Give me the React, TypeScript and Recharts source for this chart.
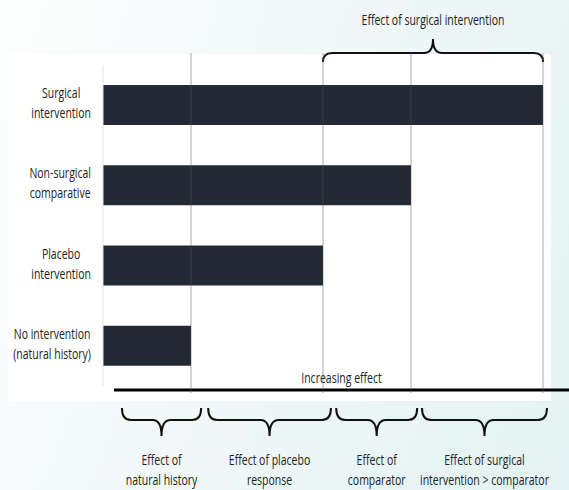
import { BarChart, Bar, XAxis, YAxis, ReferenceLine, ReferenceArea } from 'recharts';

const categories = [
  'Surgical intervention',
  'Non-surgical comparative',
  'Placebo intervention',
  'No intervention (natural history)',
];
const categoryLines = [
  ['Surgical', 'intervention'],
  ['Non-surgical', 'comparative'],
  ['Placebo', 'intervention'],
  ['No intervention', '(natural history)'],
];
const effectValues = [100, 70, 50, 20];
const gridValues = [20, 50, 70, 100];

const topBraceRange = [50, 100];
const topBraceLabel = 'Effect of surgical intervention';

const bottomBraceRanges = [
  [4.3, 22.3],
  [23.9, 51.8],
  [53, 71.4],
  [72.5, 100.9],
];
const bottomBraceLabels = [
  ['Effect of', 'natural history'],
  ['Effect of placebo', 'response'],
  ['Effect of', 'comparator'],
  ['Effect of surgical', 'intervention > comparator'],
];
const axisLabel = 'Increasing effect';

const FONT = "'Open Sans', sans-serif";
const FONT_SIZE = 15;
const SX = 0.7; // the reference uses a narrow face, squeeze Open Sans to match
const TEXT = '#222';

const data = categories.map((name, i) => ({ name, value: effectValues[i] }));

let ctx: CanvasRenderingContext2D | null = null;
const textWidth = (s: string) => {
  if (!ctx) ctx = document.createElement('canvas').getContext('2d');
  if (!ctx) return s.length * 7;
  ctx.font = `${FONT_SIZE}px 'Open Sans'`;
  return ctx.measureText(s).width * SX;
};

const Label = ({ x, y, children, anchor = 'middle' }: any) => (
  <text
    transform={`translate(${x},${y}) scale(${SX},1)`}
    textAnchor={anchor}
    fill={TEXT}
    fontSize={FONT_SIZE}
    fontFamily={FONT}
  >
    {children}
  </text>
);

// brace path: ends at yEnd, flat part at yFlat, tip at yTip
const bracePath = (x1: number, x2: number, yEnd: number, yFlat: number, yTip: number) => {
  const r = 9;
  const mid = (x1 + x2) / 2;
  return `M${x1},${yEnd} Q${x1},${yFlat} ${x1 + r},${yFlat} L${mid - r},${yFlat} Q${mid},${yFlat} ${mid},${yTip} Q${mid},${yFlat} ${mid + r},${yFlat} L${x2 - r},${yFlat} Q${x2},${yFlat} ${x2},${yEnd}`;
};

const CategoryTick = (props: any) => {
  const { x, y, payload } = props;
  const lines = categoryLines[categories.indexOf(payload.value)] || [payload.value, ''];
  const maxW = Math.max(...lines.map(textWidth));
  const cx = x - 4 - maxW / 2;
  return (
    <g>
      <Label x={cx} y={y - 7}>{lines[0]}</Label>
      <Label x={cx} y={y + 13}>{lines[1]}</Label>
    </g>
  );
};

const GridShape = (props: any) => {
  const { x1, y1, x2, y2 } = props;
  return <line x1={x1} y1={y1 + 7} x2={x2} y2={y2 - 12} stroke="#555" strokeOpacity={0.5} strokeWidth={1} />;
};

const TopBrace = (props: any) => {
  const { x, width } = props;
  return (
    <g>
      <path d={bracePath(x, x + width, 62, 53, 39)} fill="none" stroke="#111" strokeWidth={2} />
      <Label x={x + width / 2} y={25}>{topBraceLabel}</Label>
    </g>
  );
};

const makeBottomBrace = (lines: string[]) => (props: any) => {
  const { x, width } = props;
  const cx = x + width / 2;
  return (
    <g>
      <path d={bracePath(x, x + width, 408, 420, 436)} fill="none" stroke="#111" strokeWidth={2} />
      <Label x={cx} y={465}>{lines[0]}</Label>
      <Label x={cx} y={485}>{lines[1]}</Label>
    </g>
  );
};

const AxisArrow = (props: any) => {
  const { x } = props;
  const start = x + 11;
  return (
    <g>
      <line x1={start} y1={390} x2={569} y2={390} stroke="#000" strokeWidth={3} />
      <Label x={(start + 569) / 2} y={383}>{axisLabel}</Label>
    </g>
  );
};

export default function App() {
  return (
    <div
      style={{
        position: 'relative',
        width: 569,
        height: 490,
        overflow: 'hidden',
        background: 'linear-gradient(110deg, #fdfefe 0%, #f1f8f8 45%, #e3f2f2 100%)',
      }}
    >
      <style>{'body{margin:0}'}</style>
      <div style={{ position: 'absolute', left: 8, top: 54, width: 543, height: 347, background: '#fff' }} />
      <div style={{ position: 'absolute', left: 0, top: 0 }}>
        <BarChart
          width={569}
          height={490}
          data={data}
          layout="vertical"
          margin={{ top: 65, right: 26, bottom: 104, left: 0 }}
        >
          <XAxis type="number" domain={[0, 100]} hide />
          <YAxis
            type="category"
            dataKey="name"
            width={103}
            tickLine={false}
            axisLine={{ stroke: '#e2e2e2' }}
            tick={<CategoryTick />}
            interval={0}
          />
          <Bar dataKey="value" fill="#232935" barSize={40} isAnimationActive={false} />
          {gridValues.map((v) => (
            <ReferenceLine key={v} x={v} shape={<GridShape />} />
          ))}
          <ReferenceArea x1={topBraceRange[0]} x2={topBraceRange[1]} ifOverflow="visible" shape={<TopBrace />} />
          {bottomBraceRanges.map((r, i) => (
            <ReferenceArea
              key={i}
              x1={r[0]}
              x2={r[1]}
              ifOverflow="visible"
              shape={makeBottomBrace(bottomBraceLabels[i])}
            />
          ))}
          <ReferenceArea x1={0} x2={100} ifOverflow="visible" shape={<AxisArrow />} />
        </BarChart>
      </div>
    </div>
  );
}
